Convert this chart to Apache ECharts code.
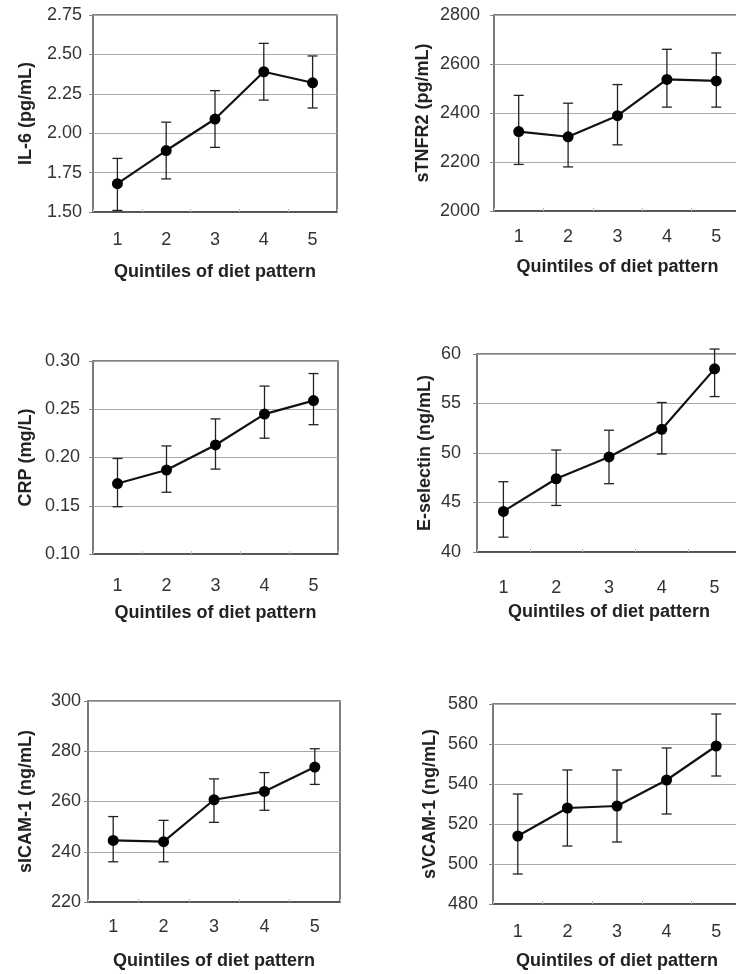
<!DOCTYPE html>
<html>
<head>
<meta charset="utf-8">
<script src="https://cdn.jsdelivr.net/npm/echarts@6/dist/echarts.min.js"></script>
<style>
  html, body { margin: 0; padding: 0; background: #fff; overflow: hidden; }
  #chart { width: 760px; height: 974px; }
</style>
</head>
<body>
<div id="chart"></div>
<script>
// quintiles of diet pattern
const quintiles = ['1', '2', '3', '4', '5'];

// IL-6 (pg/mL)
const il6Mean = [1.68, 1.89, 2.09, 2.39, 2.32];
const il6Low  = [1.51, 1.71, 1.91, 2.21, 2.16];
const il6High = [1.84, 2.07, 2.27, 2.57, 2.49];

// sTNFR2 (pg/mL)
const tnfMean = [2324, 2303, 2389, 2537, 2531];
const tnfLow  = [2190, 2180, 2270, 2424, 2424];
const tnfHigh = [2472, 2440, 2516, 2660, 2645];

// CRP (mg/L)
const crpMean = [0.173, 0.187, 0.213, 0.245, 0.259];
const crpLow  = [0.149, 0.164, 0.188, 0.220, 0.234];
const crpHigh = [0.199, 0.212, 0.240, 0.274, 0.287];

// E-selectin (ng/mL)
const selMean = [44.1, 47.4, 49.6, 52.4, 58.5];
const selLow  = [41.5, 44.7, 46.9, 49.9, 55.7];
const selHigh = [47.1, 50.3, 52.3, 55.1, 60.5];

// sICAM-1 (ng/mL)
const icamMean = [244.5, 244.0, 260.7, 264.0, 273.7];
const icamLow  = [236.0, 236.0, 251.7, 256.5, 266.8];
const icamHigh = [254.0, 252.5, 269.0, 271.5, 281.0];

// sVCAM-1 (ng/mL)
const vcamMean = [514, 528, 529, 542, 559];
const vcamLow  = [495, 509, 511, 525, 544];
const vcamHigh = [535, 547, 547, 558, 575];

// right-hand panels run past the page edge, as in the scan
const panels = [
  { name: 'IL-6 (pg/mL)', mean: il6Mean, lo: il6Low, hi: il6High, min: 1.5, max: 2.75, step: 0.25, dec: 2,
    box: { left: 93, top: 15, width: 244, height: 197 }, yGap: 58, yMargin: 11, xMargin: 19, xGap: 51 },
  { name: 'sTNFR2 (pg/mL)', mean: tnfMean, lo: tnfLow, hi: tnfHigh, min: 2000, max: 2800, step: 200, dec: 0,
    box: { left: 494, top: 15, width: 247, height: 196 }, yGap: 62, yMargin: 14, xMargin: 17, xGap: 47 },
  { name: 'CRP (mg/L)', mean: crpMean, lo: crpLow, hi: crpHigh, min: 0.1, max: 0.3, step: 0.05, dec: 2,
    box: { left: 93, top: 361, width: 245, height: 193 }, yGap: 58, yMargin: 13, xMargin: 23, xGap: 50 },
  { name: 'E-selectin (ng/mL)', mean: selMean, lo: selLow, hi: selHigh, min: 40, max: 60, step: 5, dec: 0,
    box: { left: 477, top: 354, width: 264, height: 198 }, yGap: 43, yMargin: 16, xMargin: 27, xGap: 51 },
  { name: 'sICAM-1 (ng/mL)', mean: icamMean, lo: icamLow, hi: icamHigh, min: 220, max: 300, step: 20, dec: 0,
    box: { left: 88, top: 701, width: 252, height: 201 }, yGap: 53, yMargin: 7, xMargin: 16, xGap: 50 },
  { name: 'sVCAM-1 (ng/mL)', mean: vcamMean, lo: vcamLow, hi: vcamHigh, min: 480, max: 580, step: 20, dec: 0,
    box: { left: 493, top: 704, width: 248, height: 200 }, yGap: 54, yMargin: 15, xMargin: 19, xGap: 48 }
];

const font = 'Liberation Sans, Arial, sans-serif';

const errorBar = (params, api) => {
  const x = api.value(0);
  const top = api.coord([x, api.value(2)]);
  const bot = api.coord([x, api.value(1)]);
  const cap = 5;
  const style = { stroke: '#222', lineWidth: 1.3 };
  return {
    type: 'group',
    children: [
      { type: 'line', shape: { x1: top[0], y1: top[1], x2: bot[0], y2: bot[1] }, style },
      { type: 'line', shape: { x1: top[0] - cap, y1: top[1], x2: top[0] + cap, y2: top[1] }, style },
      { type: 'line', shape: { x1: bot[0] - cap, y1: bot[1], x2: bot[0] + cap, y2: bot[1] }, style }
    ]
  };
};

const grid = [], xAxis = [], yAxis = [], series = [];

panels.forEach((p, i) => {
  grid.push(Object.assign({ show: true, borderColor: '#555', borderWidth: 1.5, backgroundColor: '#fff' }, p.box));
  xAxis.push({
    type: 'category', gridIndex: i, data: quintiles, boundaryGap: true,
    name: 'Quintiles of diet pattern', nameLocation: 'middle', nameGap: p.xGap,
    nameTextStyle: { fontFamily: font, fontWeight: 'bold', fontSize: 18, color: '#222' },
    axisLine: { lineStyle: { color: '#444', width: 1.5 } },
    axisTick: { show: true, length: 3, inside: true, lineStyle: { color: '#bbb' } },
    axisLabel: { fontFamily: font, fontSize: 18, color: '#333', margin: p.xMargin }
  });
  yAxis.push({
    type: 'value', gridIndex: i, min: p.min, max: p.max, interval: p.step,
    name: p.name, nameLocation: 'middle', nameGap: p.yGap, nameRotate: 90,
    nameTextStyle: { fontFamily: font, fontWeight: 'bold', fontSize: 18, color: '#222' },
    axisLine: { show: true, lineStyle: { color: '#777', width: 1.5 } },
    axisTick: { show: true, length: 4, lineStyle: { color: '#888' } },
    axisLabel: { fontFamily: font, fontSize: 18, color: '#333', margin: p.yMargin,
      formatter: v => v.toFixed(p.dec) },
    splitLine: { show: true, lineStyle: { color: '#aaa', width: 1 } }
  });
  series.push({
    type: 'custom', xAxisIndex: i, yAxisIndex: i, clip: false,
    renderItem: errorBar,
    encode: { x: 0, y: [1, 2] },
    data: quintiles.map((q, k) => [k, p.lo[k], p.hi[k]]),
    z: 3
  });
  series.push({
    type: 'line', xAxisIndex: i, yAxisIndex: i, data: p.mean,
    symbol: 'circle', symbolSize: 11,
    itemStyle: { color: '#000' },
    lineStyle: { color: '#111', width: 2.2 },
    z: 4
  });
});

const chart = echarts.init(document.getElementById('chart'), null, { renderer: 'canvas' });
chart.setOption({
  animation: false,
  backgroundColor: '#fff',
  grid, xAxis, yAxis, series
});
</script>
</body>
</html>
